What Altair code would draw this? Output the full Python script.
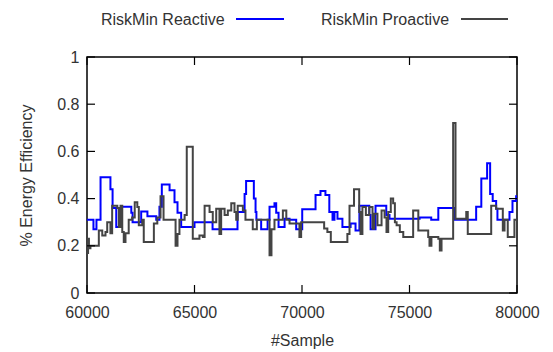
import altair as alt
import pandas as pd

# ---- data ----
reactive_x = [60000, 60300, 60440, 60630, 61090, 61190, 61360, 61590, 62060, 62120,
              62520, 62810, 63220, 63370, 63480, 63840, 64070, 64210, 64380, 65000,
              65840, 67000, 67330, 67400, 67760, 67840, 67880, 68100, 68400, 68490,
              68720, 68800, 68910, 69190, 69420, 69730, 70010, 70630, 70860, 71090,
              71270, 71420, 71510, 71650, 71880, 72260, 72490, 72670, 73130, 73190,
              73420, 73920, 74070, 75470, 76010, 76340, 77090, 78100, 78340, 78610,
              78750, 78870, 79030, 79090, 79650, 79790, 79960, 80000]
reactive_y = [0.31, 0.27, 0.31, 0.49, 0.44, 0.36, 0.28, 0.365, 0.34, 0.30,
              0.345, 0.325, 0.31, 0.365, 0.46, 0.435, 0.385, 0.34, 0.28, 0.30,
              0.27, 0.343, 0.42, 0.475, 0.40, 0.343, 0.31, 0.27, 0.31, 0.365,
              0.38, 0.34, 0.28, 0.315, 0.31, 0.27, 0.355, 0.415, 0.432, 0.415,
              0.343, 0.31, 0.343, 0.315, 0.28, 0.295, 0.265, 0.37, 0.33, 0.27,
              0.37, 0.33, 0.315, 0.32, 0.31, 0.36, 0.31, 0.365, 0.485, 0.55,
              0.42, 0.39, 0.357, 0.31, 0.343, 0.39, 0.41, 0.41]

proactive_x = [60000, 60050, 60090, 60160, 60550, 60710, 60860, 60940, 61090, 61170,
               61410, 61480, 61560, 61640, 61710, 61790, 61940, 62100, 62220, 62340,
               62410, 62570, 62640, 63110, 63270, 63420, 63560, 64120, 64210, 64300,
               64540, 64640, 64920, 65230, 65390, 65470, 65700, 65850, 66010, 66160,
               66240, 66400, 66550, 66710, 66860, 66940, 67010, 67250, 67370, 67710,
               67900, 68490, 68580, 68720, 69110, 69270, 69420, 69880, 69960, 71030,
               71180, 71340, 72110, 72210, 72420, 72660, 72720, 72810, 72970, 73130,
               73280, 73360, 73510, 73700, 73840, 73930, 74010, 74130, 74240, 74320,
               74400, 74550, 74710, 75170, 75410, 75870, 75930, 76020, 76340, 76410,
               76490, 77030, 77140, 77640, 77710, 78800, 79030, 79340, 79420, 79570,
               79880, 80000]
proactive_y = [0.17, 0.23, 0.19, 0.20, 0.265, 0.244, 0.258, 0.30, 0.253, 0.37,
               0.36, 0.28, 0.37, 0.258, 0.216, 0.253, 0.31, 0.32, 0.385, 0.364,
               0.287, 0.31, 0.216, 0.294, 0.32, 0.41, 0.31, 0.20, 0.25, 0.31,
               0.33, 0.62, 0.23, 0.244, 0.237, 0.37, 0.343, 0.30, 0.357, 0.25,
               0.357, 0.33, 0.35, 0.38, 0.343, 0.31, 0.37, 0.35, 0.31, 0.27,
               0.31, 0.16, 0.27, 0.31, 0.35, 0.31, 0.295, 0.237, 0.30, 0.273,
               0.258, 0.216, 0.25, 0.37, 0.44, 0.343, 0.25, 0.364, 0.33, 0.364,
               0.272, 0.336, 0.287, 0.35, 0.32, 0.258, 0.343, 0.40, 0.38, 0.30,
               0.287, 0.258, 0.237, 0.35, 0.265, 0.237, 0.20, 0.237, 0.23, 0.18,
               0.23, 0.72, 0.315, 0.343, 0.25, 0.37, 0.357, 0.265, 0.31, 0.237,
               0.31, 0.31]

x_ticks = [60000, 65000, 70000, 75000, 80000]
y_ticks = [0, 0.2, 0.4, 0.6, 0.8, 1]
series_names = ["RiskMin Reactive", "RiskMin Proactive"]

# ---- layout ----
W, H = 430, 236
FONT = "Liberation Sans"
TXT = "#333333"
BLUE = "#0000ff"
GRAY = "#444444"
TICK = 8

react_df = pd.DataFrame({"sample": reactive_x, "eff": reactive_y})
pro_df = pd.DataFrame({"sample": proactive_x, "eff": proactive_y})
xt_df = pd.DataFrame({"sample": x_ticks})
yt_df = pd.DataFrame({"eff": y_ticks})
one = pd.DataFrame({"k": [0]})

xs = alt.Scale(domain=[60000, 80000], nice=False, zero=False)
ys = alt.Scale(domain=[0, 1], nice=False)
x_axis = alt.Axis(values=x_ticks, format="d", title="#Sample", labelFlush=False,
                  labelPadding=11, titleY=52.5, titleBaseline="alphabetic")
y_axis = alt.Axis(values=y_ticks, format="~g", title="% Energy Efficiency",
                  labelFlush=False, labelPadding=8, titleX=-56, titleY=H / 2,
                  titleBaseline="alphabetic", titleAngle=-90)
X = alt.X("sample:Q", scale=xs, axis=x_axis)
Y = alt.Y("eff:Q", scale=ys, axis=y_axis)

blue = alt.Chart(react_df).mark_line(
    interpolate="step-after", color=BLUE, strokeWidth=2
).encode(x=X, y=Y)
gray = alt.Chart(pro_df).mark_line(
    interpolate="step-after", color=GRAY, strokeWidth=2
).encode(x=X, y=Y)

tick_style = dict(color="black", strokeWidth=1.2)
t_bottom = alt.Chart(xt_df).mark_rule(**tick_style).encode(
    x=X, y=alt.value(H), y2=alt.value(H - TICK))
t_top = alt.Chart(xt_df).mark_rule(**tick_style).encode(
    x=X, y=alt.value(0), y2=alt.value(TICK))
t_left = alt.Chart(yt_df).mark_rule(**tick_style).encode(
    y=Y, x=alt.value(0), x2=alt.value(TICK))
t_right = alt.Chart(yt_df).mark_rule(**tick_style).encode(
    y=Y, x=alt.value(W), x2=alt.value(W - TICK))

leg_text_style = dict(align="left", baseline="alphabetic", fontSize=16,
                      font=FONT, color=TXT)
leg1_t = alt.Chart(one).mark_text(text=series_names[0], **leg_text_style).encode(
    x=alt.value(14), y=alt.value(-32))
leg1_l = alt.Chart(one).mark_rule(color=BLUE, strokeWidth=2).encode(
    x=alt.value(149), x2=alt.value(197), y=alt.value(-38))
leg2_t = alt.Chart(one).mark_text(text=series_names[1], **leg_text_style).encode(
    x=alt.value(234), y=alt.value(-32))
leg2_l = alt.Chart(one).mark_rule(color=GRAY, strokeWidth=2).encode(
    x=alt.value(374), x2=alt.value(421), y=alt.value(-38))

chart = alt.layer(
    blue, gray, t_bottom, t_top, t_left, t_right,
    leg1_t, leg1_l, leg2_t, leg2_l
).properties(
    width=W, height=H,
    autosize=alt.AutoSizeParams(type="none"),
    padding={"left": 87, "top": 57, "right": 553 - 87 - W, "bottom": 352 - 57 - H},
    background="white",
).configure_view(
    stroke="black", strokeWidth=1.5
).configure_axis(
    domain=False, ticks=False, tickSize=0, grid=False,
    labelFont=FONT, labelFontSize=16, labelColor=TXT,
    titleFont=FONT, titleFontSize=16, titleColor=TXT, titleFontWeight="normal",
)

chart.save("out.html", embed_options={"renderer": "svg", "actions": False})
